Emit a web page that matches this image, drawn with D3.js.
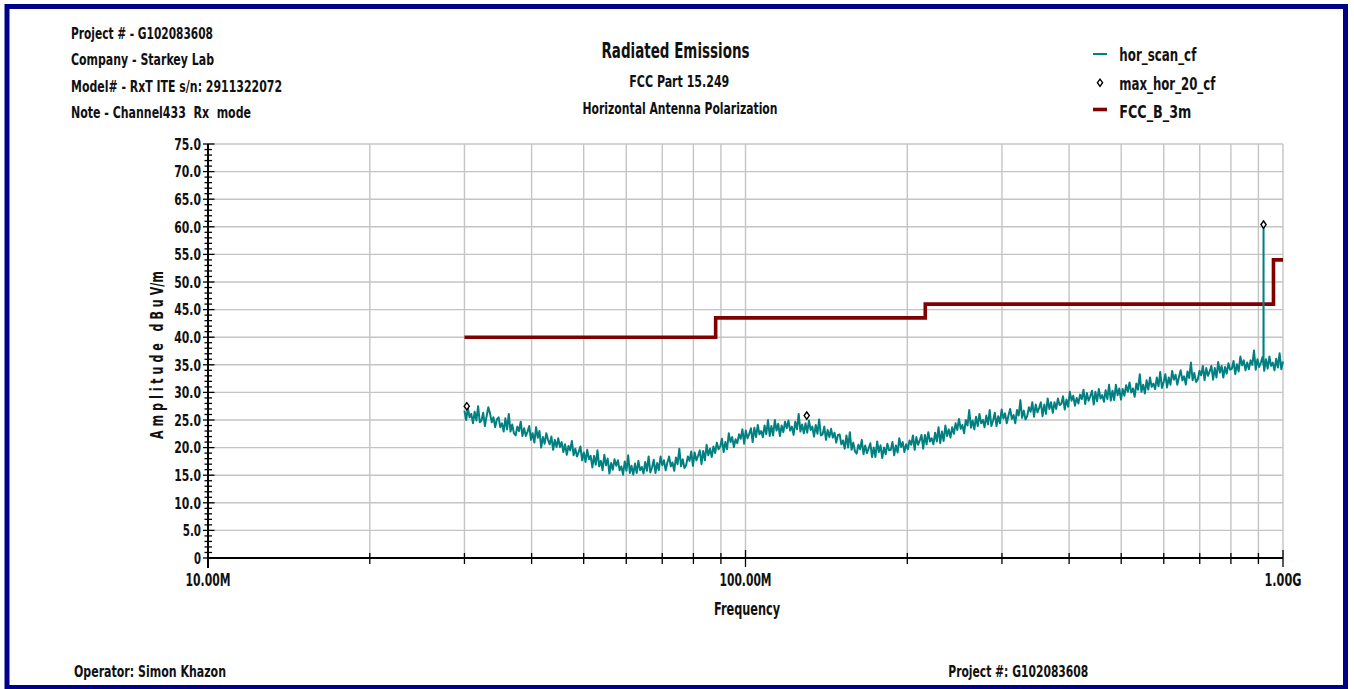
<!DOCTYPE html>
<html><head><meta charset="utf-8">
<script src="https://cdn.jsdelivr.net/npm/d3@7"></script>
<style>
html,body{margin:0;padding:0;background:#fff;overflow:hidden;}
svg text{font-family:"Liberation Sans Narrow","Arial Narrow","DejaVu Sans Condensed","Liberation Sans",sans-serif;font-weight:bold;fill:#111;}
</style></head><body>
<svg id="chart" width="1354" height="689"></svg>
<script>
// ---------- DATA ----------
const headerLines = ["Project # - G102083608", "Company - Starkey Lab", "Model# - RxT ITE s/n: 2911322072", "Note - Channel433  Rx  mode"];
const titleLines = ["Radiated Emissions", "FCC Part 15.249", "Horizontal Antenna Polarization"];
const footerLeft = "Operator: Simon Khazon";
const footerRight = "Project #: G102083608";
const legendLabels = ["hor_scan_cf", "max_hor_20_cf", "FCC_B_3m"];
const yAxisTitle = "A m p l i t u d e   d B u V/m";
const xAxisTitle = "Frequency";
const yTickValues = [0,5,10,15,20,25,30,35,40,45,50,55,60,65,70,75];
const yTickLabels = ["0","5.0","10.0","15.0","20.0","25.0","30.0","35.0","40.0","45.0","50.0","55.0","60.0","65.0","70.0","75.0"];
const xTickValuesMHz = [10, 100, 1000];
const xTickLabels = ["10.00M", "100.00M", "1.00G"];
const xGridMHz = [20,30,40,50,60,70,80,90,100,200,300,400,500,600,700,800,900,1000];

// hor_scan_cf sweep: 481 points, log-stepped from 30 MHz to 1 GHz (dBuV/m)
const scanStartMHz = 30, scanStopMHz = 1000;
const scanLevels = [
26.7,25.0,27.2,25.5,26.1,24.4,26.5,24.9,27.5,24.6, 24.9,26.3,23.9,25.7,27.3,26.2,24.6,25.5,23.7,25.1,
25.5,23.7,24.4,22.9,25.3,23.3,26.1,22.9,24.2,22.6, 22.2,23.8,23.0,24.7,22.1,23.5,22.1,22.9,23.9,21.4,
22.6,20.9,23.7,21.8,23.0,20.0,21.9,20.7,22.6,21.4, 20.6,22.0,19.6,21.4,20.1,21.7,20.1,21.0,19.2,20.6,
18.7,20.3,19.5,21.2,18.6,19.8,18.4,19.2,20.2,17.7, 19.1,17.4,19.6,17.9,18.5,16.4,18.5,16.9,19.5,16.6,
17.6,15.9,18.7,16.8,18.0,15.3,17.2,16.0,17.9,16.7, 17.7,15.9,16.6,15.1,17.5,15.8,18.6,15.4,16.7,15.1,
17.1,15.4,17.6,15.9,16.5,15.3,17.4,15.8,18.4,15.5, 16.4,17.8,15.4,17.2,15.9,18.4,16.8,17.7,15.9,17.3,
18.4,16.6,17.3,15.8,18.2,17.0,19.8,16.6,17.9,16.3, 16.8,18.4,17.6,19.3,16.7,19.1,17.7,18.5,19.5,17.0,
19.4,17.7,20.5,18.6,19.8,18.3,20.2,19.0,20.9,19.7, 20.2,21.6,19.2,21.0,19.7,22.6,21.0,21.9,20.1,21.5,
20.8,22.4,21.6,23.3,20.7,23.1,21.7,22.5,23.5,21.0, 23.6,21.9,24.1,22.4,23.0,21.9,24.0,22.4,25.0,22.1,
23.9,22.2,25.0,23.1,24.3,22.1,24.0,22.8,24.7,23.5, 24.9,23.1,23.8,22.3,24.7,23.3,26.1,22.9,24.2,22.6,
24.4,22.7,24.9,23.2,23.8,22.0,24.1,22.5,25.1,22.2, 22.4,23.8,21.4,23.2,21.9,23.4,21.8,22.7,20.9,22.3,
22.4,20.6,21.3,19.8,22.2,20.0,22.8,19.6,20.9,19.3, 18.9,20.5,19.7,21.4,18.8,20.4,19.0,19.8,20.8,18.3,
20.0,18.3,21.1,19.2,20.4,18.1,20.0,18.8,20.7,19.5, 19.6,21.0,18.6,20.4,19.1,21.7,20.1,21.0,19.2,20.6,
19.7,21.3,20.5,22.2,19.6,21.9,20.5,21.3,22.3,19.8, 22.3,20.6,22.8,21.1,21.7,20.6,22.7,21.1,23.7,20.8,
22.9,21.2,24.0,22.1,23.3,21.8,23.7,22.5,24.4,23.2, 25.2,23.4,24.1,22.6,25.0,24.0,26.8,23.6,24.9,23.3,
25.6,23.9,26.1,24.4,25.0,23.7,25.8,24.2,26.8,23.9, 24.9,26.3,23.9,25.7,24.4,26.9,25.3,26.2,24.4,25.8,
27.0,25.2,25.9,24.4,26.8,25.8,28.6,25.4,26.7,25.1, 25.7,27.3,26.5,28.2,25.6,27.8,26.4,27.2,28.2,25.7,
27.8,26.1,28.9,27.0,28.2,26.3,28.2,27.0,28.9,27.7, 27.9,29.3,26.9,28.7,27.4,30.1,28.5,29.4,27.6,29.0,
28.0,29.6,28.8,30.5,27.9,29.9,28.5,29.3,30.3,27.8, 30.1,28.4,30.6,28.9,29.5,28.3,30.4,28.8,31.4,28.5,
30.3,28.6,31.4,29.5,30.7,28.7,30.6,29.4,31.3,30.1, 31.8,30.0,30.7,29.2,31.6,30.5,33.3,30.1,31.4,29.8,
32.2,30.5,32.7,31.0,31.6,30.6,32.7,31.1,33.7,30.8, 31.9,33.3,30.9,32.7,31.4,33.9,32.3,33.2,31.4,32.8,
34.0,32.2,32.9,31.4,33.8,32.6,35.4,32.2,33.5,31.9, 32.3,33.9,33.1,34.8,32.2,34.4,33.0,33.8,34.8,32.3,
34.4,32.7,35.5,33.6,34.8,32.7,34.6,33.4,35.3,34.1, 34.3,35.7,33.3,35.1,33.8,36.5,34.9,35.8,34.0,35.4,
34.2,35.8,35.0,37.6,34.1,36.0,34.6,35.4,36.4,33.9, 36.0,34.3,36.5,34.8,35.4,34.0,36.1,34.5,37.1,34.2,
35.6
];
// narrow emission at ~920 MHz
const spikeFreqsMHz = [919.7, 920.0, 920.3];
const spikeLevels = [35.0, 60.4, 35.2];

// max_hor_20_cf markers
const maxFreqsMHz = [30.3, 130, 920];
const maxLevels = [27.5, 25.8, 60.4];

// FCC_B_3m limit (step after)
const limitFreqsMHz = [30, 88, 216, 960, 1000];
const limitLevels = [40, 43.5, 46, 54, 54];

// ---------- LAYOUT ----------
const svg = d3.select("#chart");
const W = 1354, H = 689;
const plot = {left: 208, right: 1283, top: 144, bottom: 558};
const teal = "#008080", maroon = "#800000", navy = "#000088", grid = "#c4c4c4";

const x = d3.scaleLog().domain([10, 1000]).range([plot.left, plot.right]);
const y = d3.scaleLinear().domain([0, 75]).range([plot.bottom, plot.top]);

svg.append("rect").attr("width", W).attr("height", H).attr("fill", "#fff");

// gridlines
const g = svg.append("g");
g.selectAll("line.hg").data(yTickValues.filter(v => v > 0)).join("line")
  .attr("x1", plot.left).attr("x2", plot.right)
  .attr("y1", d => y(d)).attr("y2", d => y(d))
  .attr("stroke", grid).attr("stroke-width", 1.4);
g.selectAll("line.vg").data(xGridMHz).join("line")
  .attr("x1", d => x(d)).attr("x2", d => x(d))
  .attr("y1", plot.top).attr("y2", plot.bottom)
  .attr("stroke", grid).attr("stroke-width", 1.4);

// axes
const yMinor = d3.range(0, 76, 1);
const yAx = svg.append("g");
yAx.append("line").attr("x1", plot.left).attr("x2", plot.left).attr("y1", plot.top).attr("y2", plot.bottom + 10)
  .attr("stroke", "#000").attr("stroke-width", 2);
yAx.selectAll("line.mt").data(yMinor).join("line")
  .attr("x1", d => d % 5 === 0 ? plot.left - 5 : plot.left - 3.5)
  .attr("x2", d => d % 5 === 0 ? plot.left + 6.5 : plot.left + 4)
  .attr("y1", d => y(d)).attr("y2", d => y(d))
  .attr("stroke", "#000").attr("stroke-width", 1.3);
yAx.selectAll("text").data(yTickValues).join("text")
  .attr("x", 201).attr("y", d => y(d) + 5.8)
  .attr("text-anchor", "end").attr("font-size", 16)
  .attr("textLength", (d, i) => ({1: 7, 3: 18.3, 4: 26.7})[yTickLabels[i].length])
  .attr("lengthAdjust", "spacingAndGlyphs")
  .text((d, i) => yTickLabels[i]);

const xAx = svg.append("g");
xAx.append("line").attr("x1", plot.left).attr("x2", plot.right).attr("y1", plot.bottom).attr("y2", plot.bottom)
  .attr("stroke", "#000").attr("stroke-width", 2);
xAx.selectAll("line.xt").data(xGridMHz.filter(d => !xTickValuesMHz.includes(d))).join("line")
  .attr("x1", d => x(d)).attr("x2", d => x(d))
  .attr("y1", plot.bottom - 5).attr("y2", plot.bottom + 6)
  .attr("stroke", "#000").attr("stroke-width", 1.3);
xAx.selectAll("line.xM").data(xTickValuesMHz).join("line")
  .attr("x1", d => x(d)).attr("x2", d => x(d))
  .attr("y1", plot.bottom - 8).attr("y2", plot.bottom + 9)
  .attr("stroke", "#000").attr("stroke-width", 1.3);
const xLabW = [45, 52, 37];
xAx.selectAll("text").data(xTickValuesMHz).join("text")
  .attr("x", d => x(d)).attr("y", 585.5)
  .attr("text-anchor", "middle").attr("font-size", 17)
  .attr("textLength", (d, i) => xLabW[i]).attr("lengthAdjust", "spacingAndGlyphs")
  .text((d, i) => xTickLabels[i]);

svg.append("text").attr("x", 747).attr("y", 615).attr("text-anchor", "middle").attr("font-size", 17)
  .attr("textLength", 66).attr("lengthAdjust", "spacingAndGlyphs").text(xAxisTitle);
svg.append("text").attr("transform", "translate(163,355) rotate(-90)").attr("text-anchor", "middle")
  .attr("font-size", 18).attr("xml:space", "preserve").style("white-space", "pre")
  .attr("textLength", 168).attr("lengthAdjust", "spacingAndGlyphs").text(yAxisTitle);

// limit line
const limitPts = limitFreqsMHz.map((f, i) => [f, limitLevels[i]]);
svg.append("path").datum(limitPts)
  .attr("d", d3.line().x(d => x(d[0])).y(d => y(d[1])).curve(d3.curveStepAfter))
  .attr("fill", "none").attr("stroke", maroon).attr("stroke-width", 3.6).attr("stroke-linejoin", "miter");

// scan trace
const nScan = scanLevels.length;
const scanPts = scanLevels.map((v, i) => [scanStartMHz * Math.pow(scanStopMHz / scanStartMHz, i / (nScan - 1)), v]);
spikeFreqsMHz.forEach((f, i) => scanPts.push([f, spikeLevels[i]]));
scanPts.sort((a, b) => a[0] - b[0]);
svg.append("path").datum(scanPts)
  .attr("d", d3.line().x(d => x(d[0])).y(d => y(d[1])))
  .attr("fill", "none").attr("stroke", teal).attr("stroke-width", 2).attr("stroke-linejoin", "round");

// max markers
const diamond = (cx, cy) => `M${cx},${cy - 3.6}L${cx + 2.6},${cy}L${cx},${cy + 3.6}L${cx - 2.6},${cy}Z`;
svg.selectAll("path.mk").data(maxFreqsMHz).join("path")
  .attr("d", (d, i) => diamond(x(d), y(maxLevels[i])))
  .attr("fill", "#fff").attr("stroke", "#000").attr("stroke-width", 1.4);

// header text
const hdrW = [142, 143, 211, 180];
const hdrY = [38.5, 65, 91.5, 118];
svg.selectAll("text.hdr").data(headerLines).join("text")
  .attr("x", 71).attr("y", (d, i) => hdrY[i]).attr("font-size", 16)
  .attr("xml:space", "preserve").style("white-space", "pre")
  .attr("textLength", (d, i) => hdrW[i]).attr("lengthAdjust", "spacingAndGlyphs").text(d => d);

// titles
const tX = [675.5, 679.3, 680], tY = [58.3, 86.5, 113.5], tS = [22, 16, 16], tW = [148, 100, 195];
svg.selectAll("text.ttl").data(titleLines).join("text")
  .attr("x", (d, i) => tX[i]).attr("y", (d, i) => tY[i]).attr("text-anchor", "middle")
  .attr("font-size", (d, i) => tS[i]).attr("textLength", (d, i) => tW[i]).attr("lengthAdjust", "spacingAndGlyphs")
  .text(d => d);

// legend
const lgY = [61, 89.5, 118], lgW = [77, 96, 72];
const lg = svg.append("g");
lg.append("line").attr("x1", 1093).attr("x2", 1107).attr("y1", 54).attr("y2", 54).attr("stroke", teal).attr("stroke-width", 2);
lg.append("path").attr("d", diamond(1100, 82.7)).attr("fill", "#fff").attr("stroke", "#000").attr("stroke-width", 1.4);
lg.append("line").attr("x1", 1093).attr("x2", 1107).attr("y1", 109.5).attr("y2", 109.5).attr("stroke", maroon).attr("stroke-width", 3.6);
lg.selectAll("text").data(legendLabels).join("text")
  .attr("x", 1119.3).attr("y", (d, i) => lgY[i]).attr("font-size", 17)
  .attr("textLength", (d, i) => lgW[i]).attr("lengthAdjust", "spacingAndGlyphs").text(d => d);

// footer
svg.append("text").attr("x", 74).attr("y", 677).attr("font-size", 16)
  .attr("textLength", 152).attr("lengthAdjust", "spacingAndGlyphs").text(footerLeft);
svg.append("text").attr("x", 948.3).attr("y", 677).attr("font-size", 16)
  .attr("textLength", 140).attr("lengthAdjust", "spacingAndGlyphs").text(footerRight);

// frame
svg.append("rect").attr("x", 7).attr("y", 6.5).attr("width", 1338.5).attr("height", 681)
  .attr("fill", "none").attr("stroke", navy).attr("stroke-width", 5);
</script>
</body></html>
